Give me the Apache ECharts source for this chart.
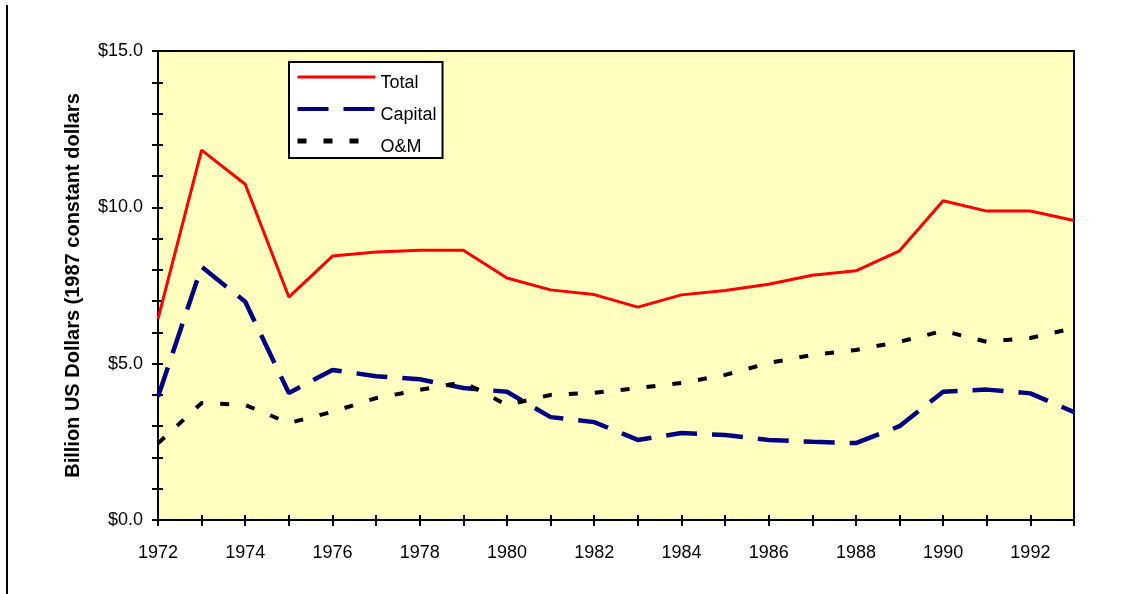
<!DOCTYPE html>
<html>
<head>
<meta charset="utf-8">
<title>Billion US Dollars 1972-1993</title>
<script src="https://cdn.jsdelivr.net/npm/echarts@6/dist/echarts.min.js"></script>
<style>
  html, body { margin: 0; padding: 0; background: #fff; }
  #chart { width: 1141px; height: 594px; }
</style>
</head>
<body>
<div id="chart"></div>
<script>
// data
const years = ['1972', '1973', '1974', '1975', '1976', '1977', '1978', '1979', '1980', '1981', '1982',
  '1983', '1984', '1985', '1986', '1987', '1988', '1989', '1990', '1991', '1992', '1993'];
const total = [6.43, 11.83, 10.74, 7.13, 8.44, 8.57, 8.63, 8.63, 7.74, 7.36, 7.21,
  6.81, 7.2, 7.34, 7.54, 7.83, 7.97, 8.61, 10.21, 9.88, 9.88, 9.58];
const capital = [3.94, 8.1, 6.98, 4.06, 4.8, 4.6, 4.5, 4.22, 4.1, 3.29, 3.13,
  2.56, 2.78, 2.72, 2.56, 2.5, 2.46, 3.0, 4.1, 4.17, 4.05, 3.45];
const om = [2.45, 3.74, 3.68, 3.1, 3.46, 3.9, 4.16, 4.41, 3.68, 4.0, 4.07,
  4.22, 4.38, 4.64, 5.02, 5.28, 5.44, 5.7, 6.05, 5.7, 5.82, 6.14];

const font = 'Liberation Sans, Arial, sans-serif';

const chart = echarts.init(document.getElementById('chart'));

const option = {
  animation: false,
  textStyle: { fontFamily: font },
  graphic: [{
    type: 'line',
    shape: { x1: 7, y1: 5, x2: 7, y2: 594 },
    style: { stroke: '#000', lineWidth: 2 }
  }],
  grid: {
    left: 158, right: 67, top: 51, bottom: 74,
    show: true,
    backgroundColor: '#ffffc0',
    borderColor: '#000',
    borderWidth: 2
  },
  legend: {
    orient: 'vertical',
    left: 289, top: 62,
    padding: [0, 6, 2, 6],
    backgroundColor: '#fff',
    borderColor: '#000',
    borderWidth: 2,
    itemWidth: 78,
    itemHeight: 14,
    itemGap: 2,
    itemStyle: { opacity: 0 },
    // text sits a little below its line, as in the original
    formatter: name => '\n' + name,
    textStyle: { fontFamily: font, fontSize: 18, color: '#000', lineHeight: 12 },
    data: [
      { name: 'Total', lineStyle: { width: 3 } },
      { name: 'Capital', lineStyle: { width: 4 } },
      { name: 'O&M', lineStyle: { width: 5 } }
    ]
  },
  xAxis: [{
    type: 'category',
    data: years,
    boundaryGap: false,
    axisLine: { lineStyle: { color: '#000', width: 2 } },
    axisTick: { interval: 0, length: 6, lineStyle: { color: '#000', width: 2 } },
    axisLabel: { interval: 1, margin: 24, fontSize: 18, color: '#000', fontFamily: font },
    splitLine: { show: false }
  }, {
    type: 'category',
    data: years,
    boundaryGap: false,
    position: 'bottom',
    axisLine: { show: false },
    axisTick: { inside: true, interval: 0, length: 5, lineStyle: { color: '#000', width: 2 } },
    axisLabel: { show: false },
    splitLine: { show: false }
  }],
  yAxis: [{
    type: 'value',
    min: 0, max: 15, interval: 1,
    name: 'Billion US Dollars (1987 constant dollars',
    nameLocation: 'middle',
    nameRotate: 90,
    nameGap: 75,
    nameTextStyle: { fontFamily: font, fontSize: 20, fontWeight: 'bold', color: '#000' },
    axisLine: { show: true, lineStyle: { color: '#000', width: 2 } },
    axisTick: { show: true, length: 6, lineStyle: { color: '#000', width: 2 } },
    axisLabel: {
      margin: 15, fontSize: 18, color: '#000', fontFamily: font,
      formatter: v => (v % 5 === 0 ? '$' + v.toFixed(1) : '')
    },
    splitLine: { show: false }
  }, {
    type: 'value',
    position: 'left',
    min: 0, max: 15, interval: 1,
    axisLine: { show: false },
    axisTick: { show: true, inside: true, length: 5, lineStyle: { color: '#000', width: 2 } },
    axisLabel: { show: false },
    splitLine: { show: false }
  }],
  series: [{
    name: 'Total',
    type: 'line',
    data: total,
    symbol: 'none',
    color: '#ff0000',
    lineStyle: { color: '#ff0000', width: 3 }
  }, {
    name: 'Capital',
    type: 'line',
    data: capital,
    symbol: 'none',
    color: '#000080',
    lineStyle: { color: '#000080', width: 4.5, type: [31, 15] }
  }, {
    name: 'O&M',
    type: 'line',
    data: om,
    symbol: 'none',
    color: '#000',
    lineStyle: { color: '#000', width: 4, type: [9, 17] }
  }]
};

chart.setOption(option);

window.addEventListener('resize', function () {
  chart.resize();
});
</script>
</body>
</html>
